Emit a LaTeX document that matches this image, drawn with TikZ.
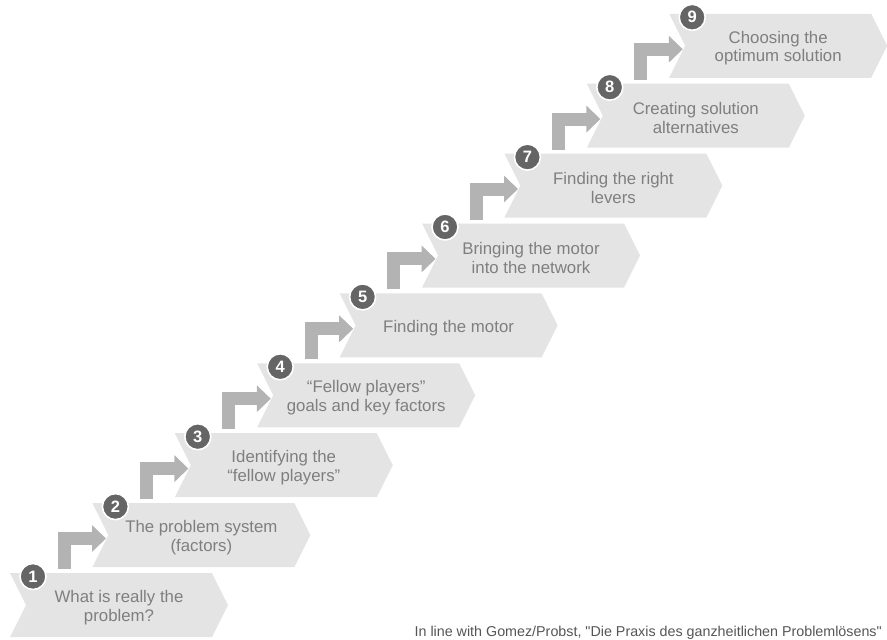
\documentclass[tikz,border=0pt]{standalone}
\usepackage{fontspec}
\setmainfont{Liberation Sans}
% plain face without the TeX quote mapping, so " stays a straight quote
\newfontfamily\notefont{Liberation Sans}[Ligatures=TeXOff]
\usetikzlibrary{arrows.meta}

\definecolor{stepfill}{HTML}{E4E4E4}
\definecolor{steptext}{HTML}{7F7F7F}
\definecolor{flowgray}{HTML}{B3B3B3}
\definecolor{badgegray}{HTML}{656565}
\definecolor{notegray}{HTML}{555555}

\tikzset{
  stepshape/.style={fill=stepfill, draw=none},
  steplabel/.style={text=steptext, align=center, inner sep=0pt,
    font=\fontsize{16.8pt}{18.5pt}\selectfont},
  badge/.style={circle, fill=badgegray, draw=white, line width=1.6pt,
    minimum size=26pt, inner sep=0pt, text=white,
    font=\fontsize{16.5pt}{16.5pt}\selectfont\bfseries},
  flow/.style={draw=flowgray, line width=13pt, line join=miter, line cap=butt,
    -{Triangle[width=26pt,length=14pt]}},
  note/.style={text=notegray, inner sep=0pt,
    font=\notefont\fontsize{14.3pt}{16pt}\selectfont},
}

\begin{document}
\begin{tikzpicture}[x=1pt,y=-1pt]
  \useasboundingbox (0,0) rectangle (887,640);

  % chevrons of the nine steps, rising to the right
  \foreach \i/\txt in {
      1/{What is really the\\problem?},
      2/{The problem system\\(factors)},
      3/{Identifying the\\“fellow players”},
      4/{“Fellow players”\\goals and key factors},
      5/{Finding the motor},
      6/{Bringing the motor\\into the network},
      7/{Finding the right\\levers},
      8/{Creating solution\\alternatives},
      9/{Choosing the\\optimum solution}} {
    \coordinate (p\i) at ({10+(\i-1)*82.4},{573-(\i-1)*69.9});
    \coordinate (e\i) at ([shift={(13.6,35.4)}]p\i);
    \fill[stepshape] (p\i) -- ++(202,0) -- ++(16,32) -- ++(-16,32)
      -- ++(-202,0) -- ++(16,-32) -- cycle;
    \node[steplabel] (t\i) at ([shift={(109,34.5)}]p\i) {\txt};
  }

  % bent arrows leading from each step up to the next one
  \foreach \i [evaluate=\i as \j using int(\i+1)] in {1,...,8} {
    \draw[flow] ([shift={(54,-4)}]p\i) |- (e\j);
  }

  % numbered badges
  \foreach \i in {1,...,9} {
    \node[badge] (n\i) at ([shift={(23,3.5)}]p\i) {\i};
  }

  \node[note, anchor=base east] (src) at (882,636)
    {In line with Gomez/Probst, "Die Praxis des ganzheitlichen Problemlösens"};
\end{tikzpicture}
\end{document}
